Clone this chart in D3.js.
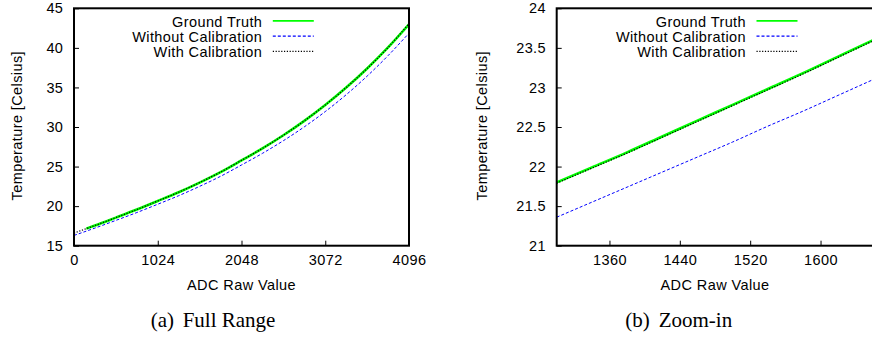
<!DOCTYPE html>
<html lang="en">
<head>
<meta charset="utf-8">
<title>ADC Temperature Calibration</title>
<script src="https://d3js.org/d3.v7.min.js"></script>
<style>
body { margin:0; background:#ffffff; }
svg text { font-family:"Liberation Sans", Arial, sans-serif; font-size:14.5px; letter-spacing:0.4px; fill:#000; }
svg text.caption { font-family:"Liberation Serif", "Times New Roman", serif; font-size:21px; letter-spacing:0; }
</style>
</head>
<body>
<div id="chart"></div>
<script>
// (a) full range
const fullAdc     = [0, 256, 512, 768, 1024, 1280, 1536, 1792, 2048, 2304, 2560, 2816, 3072, 3328, 3584, 3840, 4096];
const fullWithout = [16.30, 17.23, 18.20, 19.19, 20.24, 21.32, 22.50, 23.77, 25.20, 26.67, 28.27, 30.02, 31.95, 34.08, 36.43, 39.02, 41.86];
const fullWith    = [16.60, 17.55, 18.55, 19.57, 20.65, 21.76, 22.98, 24.30, 25.78, 27.30, 28.96, 30.78, 32.78, 34.98, 37.40, 40.06, 43.05];
const groundAdc   = [150, 256, 512, 768, 1024, 1280, 1536, 1792, 2048, 2304, 2560, 2816, 3072, 3328, 3584, 3840, 4096];
const fullGround  = [17.16, 17.55, 18.55, 19.57, 20.65, 21.76, 22.98, 24.30, 25.78, 27.30, 28.96, 30.78, 32.78, 34.98, 37.40, 40.06, 42.98];

// (b) zoom-in
const zoomAdc     = [1300, 1340, 1380, 1420, 1460, 1500, 1540, 1580, 1620, 1660];
const zoomGround  = [21.80, 21.99, 22.18, 22.38, 22.58, 22.78, 22.98, 23.18, 23.39, 23.60];
const zoomWithout = [21.36, 21.55, 21.74, 21.93, 22.12, 22.31, 22.51, 22.70, 22.90, 23.10];
const zoomWith    = [21.79, 21.98, 22.17, 22.37, 22.57, 22.77, 22.97, 23.17, 23.38, 23.59];

const seriesNames = ["Ground Truth", "Without Calibration", "With Calibration"];
const fullXTicks = [0, 1024, 2048, 3072, 4096];
const fullYTicks = [15, 20, 25, 30, 35, 40, 45];
const zoomXTicks = [1360, 1440, 1520, 1600];
const zoomYTicks = [21, 21.5, 22, 22.5, 23, 23.5, 24];

const styles = [
  {color:"#00ff00", width:2.6, dash:null},
  {color:"#0000ff", width:1, dash:"3,2"},
  {color:"#000000", width:1.2, dash:"1.2,1.6"}
];

const svg = d3.select("#chart").append("svg").attr("width", 872).attr("height", 337);
const top_y = 8.3, bottom_y = 245.7;

function drawPanel(p) {
  const g = svg.append("g");
  const x = d3.scaleLinear().domain(p.xDomain).range([p.left, p.right]);
  const y = d3.scaleLinear().domain(p.yDomain).range([bottom_y, top_y]);

  g.append("clipPath").attr("id", p.id).append("rect")
    .attr("x", p.left).attr("y", top_y).attr("width", p.right - p.left).attr("height", bottom_y - top_y);

// 軸 (内向きの目盛り)
  const xa = g.append("g").attr("transform", `translate(0,${bottom_y})`)
    .call(d3.axisBottom(x).tickValues(p.xTicks).tickSize(-5).tickPadding(9.5).tickFormat(d3.format("d")));
  const ya = g.append("g").attr("transform", `translate(${p.left},0)`)
    .call(d3.axisLeft(y).tickValues(p.yTicks).tickSize(-5).tickPadding(10.7).tickFormat(d => String(d)));
  [xa, ya].forEach(a => {
    a.select(".domain").remove();
    a.selectAll("line").attr("stroke", "#000").attr("stroke-width", 1);
    a.selectAll("text").attr("font-size", null).attr("font-family", null).attr("fill", "#000");
  });

  const line = d3.line().x(d => x(d[0])).y(d => y(d[1])).curve(d3.curveMonotoneX);
  const plot = g.append("g").attr("clip-path", `url(#${p.id})`);
  p.series.forEach((s, i) => {
    plot.append("path").datum(d3.zip(s.adc, s.temp))
      .attr("fill", "none").attr("stroke", styles[i].color)
      .attr("stroke-width", styles[i].width)
      .attr("stroke-dasharray", styles[i].dash)
      .attr("d", line);
  });

  g.append("rect").attr("x", p.left).attr("y", top_y)
    .attr("width", p.right - p.left).attr("height", bottom_y - top_y)
    .attr("fill", "none").attr("stroke", "#000").attr("stroke-width", 2);

// 凡例
  seriesNames.forEach((name, i) => {
    const base = 26.5 + 15.2 * i;
    g.append("text").attr("x", p.legendX).attr("y", base).attr("text-anchor", "end").text(name);
    g.append("line").attr("x1", p.legendX + 10.5).attr("x2", p.legendX + 51.5)
      .attr("y1", base - 5.6).attr("y2", base - 5.6)
      .attr("stroke", styles[i].color).attr("stroke-width", i == 0 ? 1.6 : 1.2)
      .attr("stroke-dasharray", styles[i].dash);
  });

  g.append("text").attr("x", (p.left + p.right) / 2).attr("y", 289.5)
    .attr("text-anchor", "middle").text("ADC Raw Value");
  g.append("text").attr("transform", `translate(${p.yLabelX},125.7) rotate(-90)`)
    .attr("text-anchor", "middle").text("Temperature [Celsius]");

  const cap = g.append("text").attr("class", "caption").attr("y", 327);
  cap.append("tspan").attr("x", p.capX).text(p.capTag);
  cap.append("tspan").attr("x", p.capX2).text(p.capText);
}

drawPanel({
  id:"clipA", left:74, right:409, xDomain:[0, 4096], yDomain:[15, 45],
  xTicks:fullXTicks, yTicks:fullYTicks, legendX:262.3, yLabelX:22,
  series:[{adc:groundAdc, temp:fullGround}, {adc:fullAdc, temp:fullWithout}, {adc:fullAdc, temp:fullWith}],
  capX:150.7, capX2:182.7, capTag:"(a)", capText:"Full Range"
});
drawPanel({
  id:"clipB", left:556.7, right:873.3, xDomain:[1300, 1660], yDomain:[21, 24],
  xTicks:zoomXTicks, yTicks:zoomYTicks, legendX:746, yLabelX:486.5,
  series:[{adc:zoomAdc, temp:zoomGround}, {adc:zoomAdc, temp:zoomWithout}, {adc:zoomAdc, temp:zoomWith}],
  capX:625.3, capX2:658.7, capTag:"(b)", capText:"Zoom-in"
});
</script>
</body>
</html>
